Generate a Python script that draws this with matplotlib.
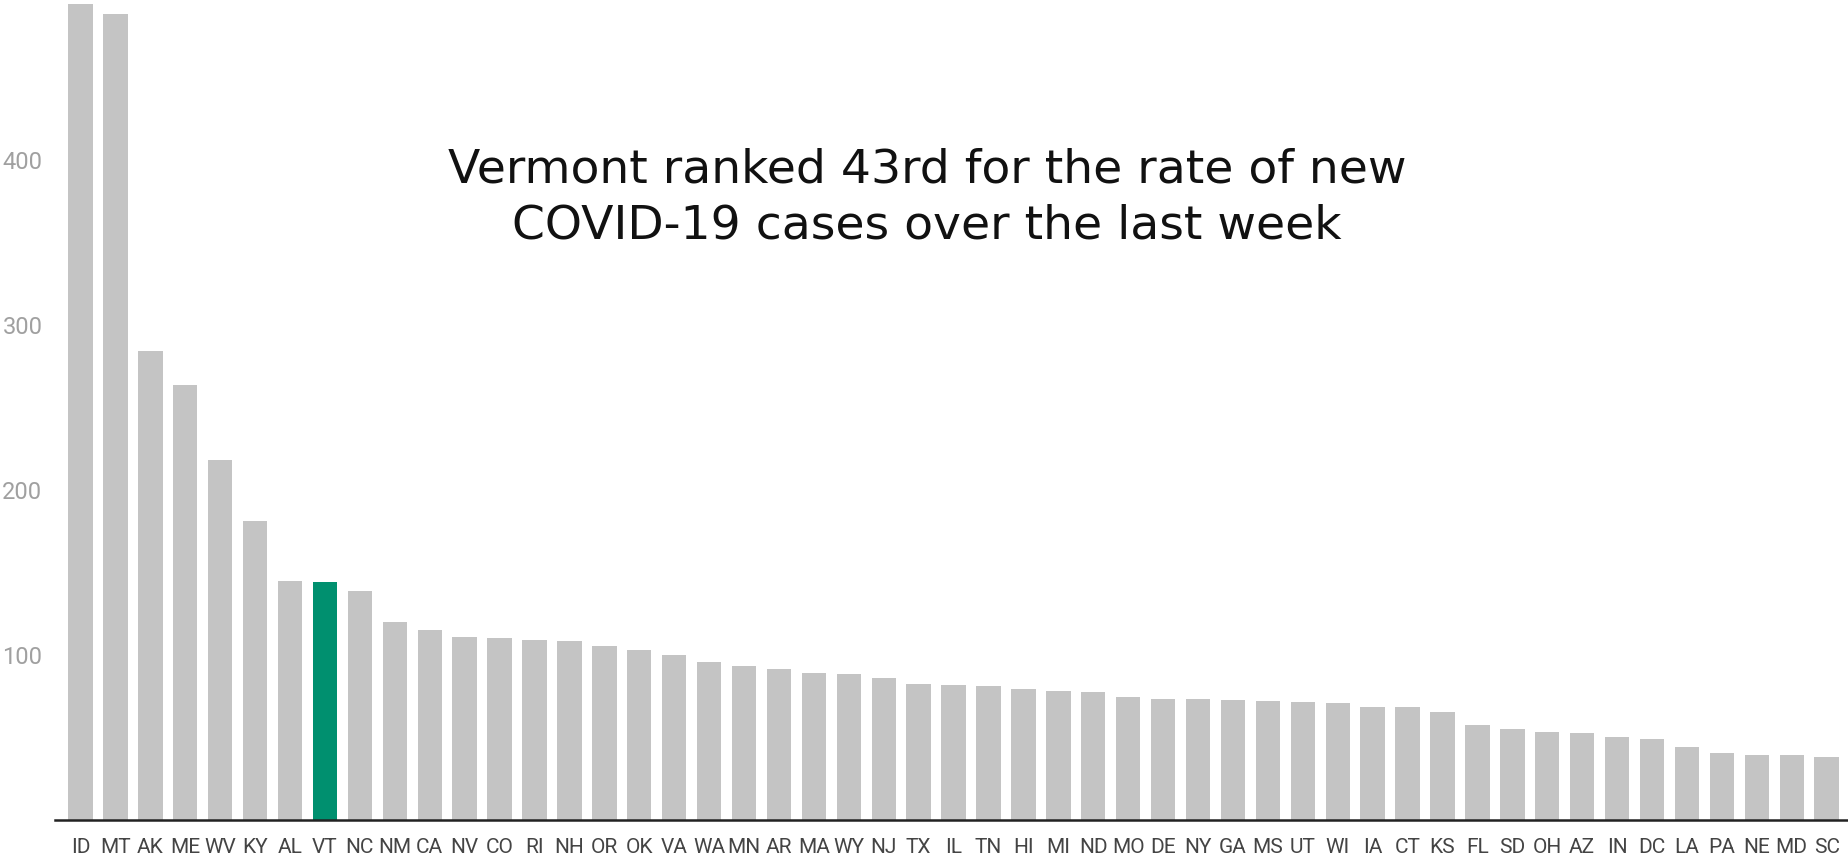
import matplotlib
matplotlib.use("Agg")
import matplotlib.pyplot as plt

states = ["ID", "MT", "AK", "ME", "WV", "KY", "AL", "VT", "NC", "NM", "CA", "NV", "CO",
          "RI", "NH", "OR", "OK", "VA", "WA", "MN", "AR", "MA", "WY", "NJ", "TX", "IL",
          "TN", "HI", "MI", "ND", "MO", "DE", "NY", "GA", "MS", "UT", "WI", "IA", "CT",
          "KS", "FL", "SD", "OH", "AZ", "IN", "DC", "LA", "PA", "NE", "MD", "SC"]
rates = [494.4, 488.7, 284.2, 263.6, 218.2, 181.0, 144.8, 144.0, 138.5, 119.8, 115.0,
         111.1, 110.5, 109.3, 108.5, 105.5, 103.0, 99.8, 95.6, 93.5, 91.8, 89.3, 88.7,
         86.1, 82.4, 81.8, 81.2, 79.4, 78.2, 77.4, 74.3, 73.1, 73.1, 72.5, 71.9, 71.3,
         70.7, 68.7, 68.7, 65.7, 57.6, 54.9, 53.1, 52.5, 50.1, 49.3, 44.4, 40.6, 39.4,
         39.4, 38.2]
highlight = "VT"
yticks = [100, 200, 300, 400]
title = "Vermont ranked 43rd for the rate of new\nCOVID-19 cases over the last week"

W, H = 1849, 856
fig = plt.figure(figsize=(W / 100, H / 100), dpi=100)
ax = fig.add_axes([55 / W, 36 / H, 1 - 55 / W, 1 - 36 / H])

colors = ["#00906f" if s == highlight else "#c4c4c4" for s in states]
x = list(range(len(states)))
ax.bar(x, rates, width=0.70, color=colors, zorder=2)

ax.set_xlim(-0.73, 50.64)
ax.set_ylim(0, 497)
ax.set_xticks(x)
ax.set_xticklabels(states, fontsize=15, color="#444444", family="Roboto")
ax.set_yticks(yticks)
ax.set_yticklabels([str(v) for v in yticks], fontsize=17, color="#a0a0a0", family="Roboto")
ax.tick_params(axis="x", length=0, pad=13)
ax.tick_params(axis="y", length=0, pad=9)

for side in ["top", "right", "left"]:
    ax.spines[side].set_visible(False)
ax.spines["bottom"].set_linewidth(1.8)
ax.spines["bottom"].set_color("#222222")
ax.spines["bottom"].set_zorder(3)

fig.text(927 / W, 1 - 198 / H, title, ha="center", va="center", fontsize=34,
         family="DejaVu Sans", fontweight="normal", color="#111111", linespacing=1.3)

fig.savefig("out.png", dpi=100)
